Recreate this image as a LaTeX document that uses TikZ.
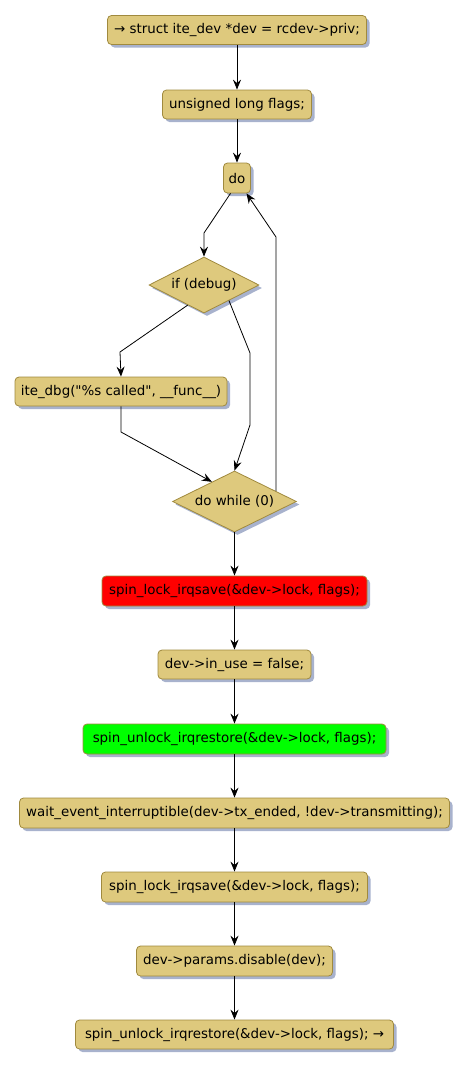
\documentclass[tikz,border=0pt]{standalone}
\usepackage{fontspec}
\setmainfont{DejaVu Sans}[Ligatures=TeXOff]
\usetikzlibrary{shapes.geometric,shadows,arrows.meta}
\definecolor{boxfill}{RGB}{222,201,125}
\definecolor{boxline}{RGB}{160,138,62}
\definecolor{shadowc}{RGB}{158,170,200}
\tikzset{
  shd/.style={drop shadow={shadow xshift=3pt,shadow yshift=-3pt,fill=shadowc,opacity=0.9}},
  box/.style={shd,draw=boxline,fill=boxfill,rounded corners=4pt,line width=0.8pt,
    inner sep=0pt,minimum height=29pt,font=\fontsize{13.4}{16}\selectfont},
  cond/.style={shd,draw=boxline,fill=boxfill,diamond,shape aspect=2,line width=0.8pt,
    inner sep=0pt,font=\fontsize{13.4}{16}\selectfont},
  arr/.style={-{Stealth[length=10pt,width=8pt,inset=3.5pt]},line width=0.8pt},
}
\begin{document}
\begin{tikzpicture}[x=1pt,y=-1pt]
\useasboundingbox (0,0) rectangle (468,1069);
\node[box,minimum width=259pt] (n1) at (237,30) {→ struct ite\_dev *dev = rcdev->priv;};
\node[box,minimum width=149pt] (n2) at (237,104.5) {unsigned long flags;};
\node[box,minimum width=27pt,minimum height=30pt] (do) at (237,178) {do};
\node[cond,minimum width=110pt,minimum height=56pt] (if) at (204,285) {if (debug)};
\node[box,minimum width=212pt] (dbg) at (121,391.5) {ite\_dbg("\%s called", \_\_func\_\_)};
\node[cond,minimum width=124pt,minimum height=61pt] (dw) at (234.5,501.5) {do while (0)};
\node[box,fill=red,minimum width=265pt,minimum height=30pt] (lk1) at (234.5,591) {spin\_lock\_irqsave(\&dev->lock, flags);};
\node[box,minimum width=153pt] (use) at (234.5,664.5) {dev->in\_use = false;};
\node[box,fill=green,minimum width=303pt,minimum height=30pt] (ul1) at (234.5,739) {spin\_unlock\_irqrestore(\&dev->lock, flags);};
\node[box,minimum width=430pt,minimum height=30pt] (wait) at (234.5,813) {wait\_event\_interruptible(dev->tx\_ended, !dev->transmitting);};
\node[box,minimum width=266pt,minimum height=30pt] (lk2) at (234.5,887) {spin\_lock\_irqsave(\&dev->lock, flags);};
\node[box,minimum width=196pt,minimum height=30pt] (par) at (234.5,961) {dev->params.disable(dev);};
\node[box,minimum width=318pt] (ul2) at (234.5,1034.5) {spin\_unlock\_irqrestore(\&dev->lock, flags); →};

\coordinate (b1) at (204,233);
\coordinate (b2) at (120,352);
\coordinate (b3) at (250,353);
\coordinate (b4) at (250,425);
\coordinate (b5) at (121,432);
\coordinate (b6) at (276,237);

\draw[arr] (n1.south) -- (n2.north);
\draw[arr] (n2.south) -- (do.north);
\draw[arr] ([xshift=-6.5pt]do.south) -- (b1) -- (if.north);
\draw[arr] (if.231) -- (b2) -- (dbg.north);
\draw[arr] (if.328) -- (b3) -- (b4) -- (dw.north);
\draw[arr] (dbg.south) -- (b5) -- (dw.139);
\draw[arr] (dw.14) -- (dw.14 |- b6) -- (b6) -- ([xshift=9.5pt]do.south);
\draw[arr] (dw.south) -- (lk1.north);
\draw[arr] (lk1.south) -- (use.north);
\draw[arr] (use.south) -- (ul1.north);
\draw[arr] (ul1.south) -- (wait.north);
\draw[arr] (wait.south) -- (lk2.north);
\draw[arr] (lk2.south) -- (par.north);
\draw[arr] (par.south) -- (ul2.north);
\end{tikzpicture}
\end{document}
